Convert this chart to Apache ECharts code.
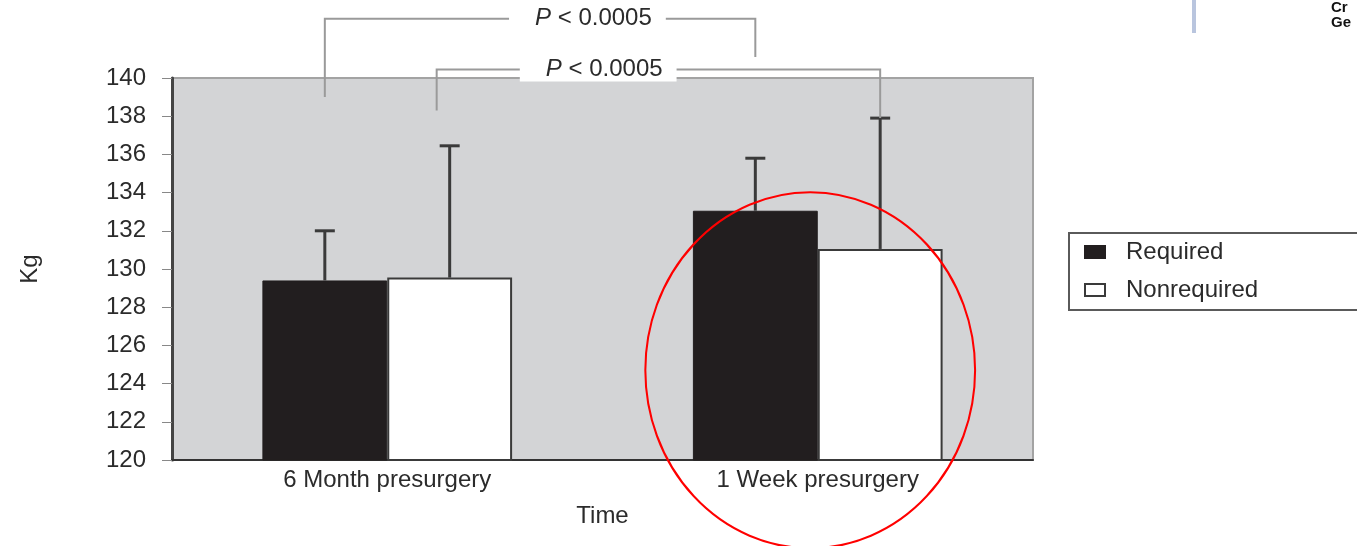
<!DOCTYPE html>
<html><head><meta charset="utf-8">
<script src="https://cdn.jsdelivr.net/npm/echarts@6/dist/echarts.min.js"></script>
<style>html,body{margin:0;padding:0;background:#fff}#c{width:1357px;height:546px}</style>
</head><body><div id="c"></div>
<script>
// ---- data ----
const categories = ['6 Month presurgery', '1 Week presurgery'];
const seriesNames = ['Required', 'Nonrequired'];
const requiredMean = [129.4, 133.05];
const nonrequiredMean = [129.55, 131.05];
const requiredUpper = [132.0, 135.8];
const nonrequiredUpper = [136.45, 137.9];
const yMin = 120, yMax = 140, yStep = 2;
const pLabels = ['P < 0.0005', 'P < 0.0005'];
// significance brackets: series index compared across both categories, levels in Kg
const bracketSeries = [0, 1];
const bracketLeftLow = [139.0, 138.3];
const bracketTop = [143.1, 140.45];
const bracketRightLow = [141.1, 137.9];
// highlighted category (red ellipse annotation), centre level in Kg
const highlightCategory = [1];
const highlightCentre = [124.7];

// ---- chart ----
const FONT = 'Liberation Sans, Arial, sans-serif';
const FS = 24;
const GAP = 0.42;
const INK = '#2b2b2b';
function barX(api, cat, s) {
  const c = api.coord([cat, yMin])[0];
  const band = api.size([1, 0])[0];
  const bw = band * (1 - GAP) / 2;
  return c + (s === 0 ? -bw / 2 : bw / 2);
}
function errRender(s) {
  return function (params, api) {
    const cat = api.value(0);
    const x = barX(api, cat, s);
    const y0 = api.coord([cat, api.value(1)])[1];
    const y1 = api.coord([cat, api.value(2)])[1];
    const st = { stroke: '#3a3a3a', lineWidth: 3 };
    return { type: 'group', children: [
      { type: 'line', shape: { x1: x, y1: y0, x2: x, y2: y1 }, style: st },
      { type: 'line', shape: { x1: x - 10, y1: y1, x2: x + 10, y2: y1 }, style: st }
    ]};
  };
}
const labelT = [0.465, 0.49];
const bracketLeftShift = [0, -13];
function bracketRender(params, api) {
  const i = params.dataIndex;
  const s = bracketSeries[i];
  const xl = barX(api, 0, s) + bracketLeftShift[i], xr = barX(api, 1, s);
  const yl = api.coord([0, bracketLeftLow[i]])[1];
  const yt = api.coord([0, bracketTop[i]])[1];
  const yr = api.coord([1, bracketRightLow[i]])[1];
  const c0 = api.coord([0, yMin])[0], c1 = api.coord([1, yMin])[0];
  const tx = c0 + labelT[i] * (c1 - c0);
  return { type: 'group', children: [
    { type: 'polyline', shape: { points: [[xl, yl], [xl, yt], [xr, yt], [xr, yr]] },
      style: { stroke: '#9a9a9a', lineWidth: 2, fill: null } },
    { type: 'text', x: tx, y: yt, z2: 10,
      style: { text: '{i|P}' + pLabels[i].slice(1), fontSize: FS, fontFamily: FONT, fill: INK,
        align: 'center', verticalAlign: 'middle', backgroundColor: '#fff', padding: [0, 14, 0, 26],
        rich: { i: { fontStyle: 'italic', fontSize: FS, fontFamily: FONT, fill: INK } } } }
  ]};
}
function ellipseRender(params, api) {
  const p = api.coord([api.value(0), api.value(1)]);
  const band = api.size([1, 0])[0];
  const ry = 178, rx = band * 0.383;
  return { type: 'circle', x: p[0] - band * 0.0175, y: p[1], scaleX: rx / ry, scaleY: 1,
    shape: { cx: 0, cy: 0, r: ry },
    style: { stroke: '#ff0000', lineWidth: 2.2, fill: null, strokeNoScale: true } };
}

const chart = echarts.init(document.getElementById('c'));
chart.setOption({
  animation: false,
  backgroundColor: '#fff',
  grid: { left: 172, right: 324, top: 78, bottom: 86, show: true,
    backgroundColor: '#d3d4d6', borderColor: '#a3a3a3', borderWidth: 2 },
  legend: {
    orient: 'vertical', left: 1069, top: 233,
    backgroundColor: '#fff', borderColor: '#5a5a5a', borderWidth: 2,
    padding: [7, 140, 8, 15], itemWidth: 20, itemHeight: 12, itemGap: 14,
    icon: 'rect', data: seriesNames,
    textStyle: { fontSize: FS, fontFamily: FONT, color: INK, padding: [0, 0, 0, 16] }
  },
  xAxis: {
    type: 'category', data: categories,
    axisLine: { lineStyle: { color: '#333', width: 2 } },
    axisTick: { show: false },
    axisLabel: { fontSize: FS, fontFamily: FONT, color: INK, margin: 8 },
    name: 'Time', nameLocation: 'middle', nameGap: 44,
    nameTextStyle: { fontSize: FS, fontFamily: FONT, color: INK }
  },
  yAxis: {
    type: 'value', min: yMin, max: yMax, interval: yStep,
    axisLine: { show: true, lineStyle: { color: '#444', width: 3 } },
    axisTick: { show: true, length: 10, lineStyle: { color: '#888', width: 1 } },
    splitLine: { show: false },
    axisLabel: { fontSize: FS, fontFamily: FONT, color: INK, margin: 26 },
    name: 'Kg', nameLocation: 'middle', nameRotate: 90, nameGap: 130,
    nameTextStyle: { fontSize: FS, fontFamily: FONT, color: INK }
  },
  series: [
    { name: seriesNames[0], type: 'bar', data: requiredMean, barGap: '0%', barCategoryGap: (GAP * 100) + '%',
      itemStyle: { color: '#221e1f', borderColor: '#221e1f', borderWidth: 1 } },
    { name: seriesNames[1], type: 'bar', data: nonrequiredMean,
      itemStyle: { color: '#ffffff', borderColor: '#3a3a3a', borderWidth: 2 } },
    { type: 'custom', clip: false, z: 5, renderItem: errRender(0),
      data: categories.map((c, i) => [i, requiredMean[i], requiredUpper[i]]) },
    { type: 'custom', clip: false, z: 5, renderItem: errRender(1),
      data: categories.map((c, i) => [i, nonrequiredMean[i], nonrequiredUpper[i]]) },
    { type: 'custom', clip: false, z: 6, renderItem: bracketRender,
      data: bracketSeries.map((s, i) => [i, yMin]) },
    { type: 'custom', clip: false, z: 20, renderItem: ellipseRender, silent: true,
      data: highlightCategory.map((c, i) => [c, highlightCentre[i]]) }
  ],
  graphic: [
    { type: 'rect', left: 1192, top: 0, shape: { width: 4, height: 33 }, style: { fill: '#b9c5de' } },
    { type: 'text', left: 1331, top: 0, style: { text: 'Cr', fontSize: 15, fontWeight: 'bold', fontFamily: FONT, fill: '#111' } },
    { type: 'text', left: 1331, top: 15, style: { text: 'Ge', fontSize: 15, fontWeight: 'bold', fontFamily: FONT, fill: '#111' } }
  ]
});
</script></body></html>
